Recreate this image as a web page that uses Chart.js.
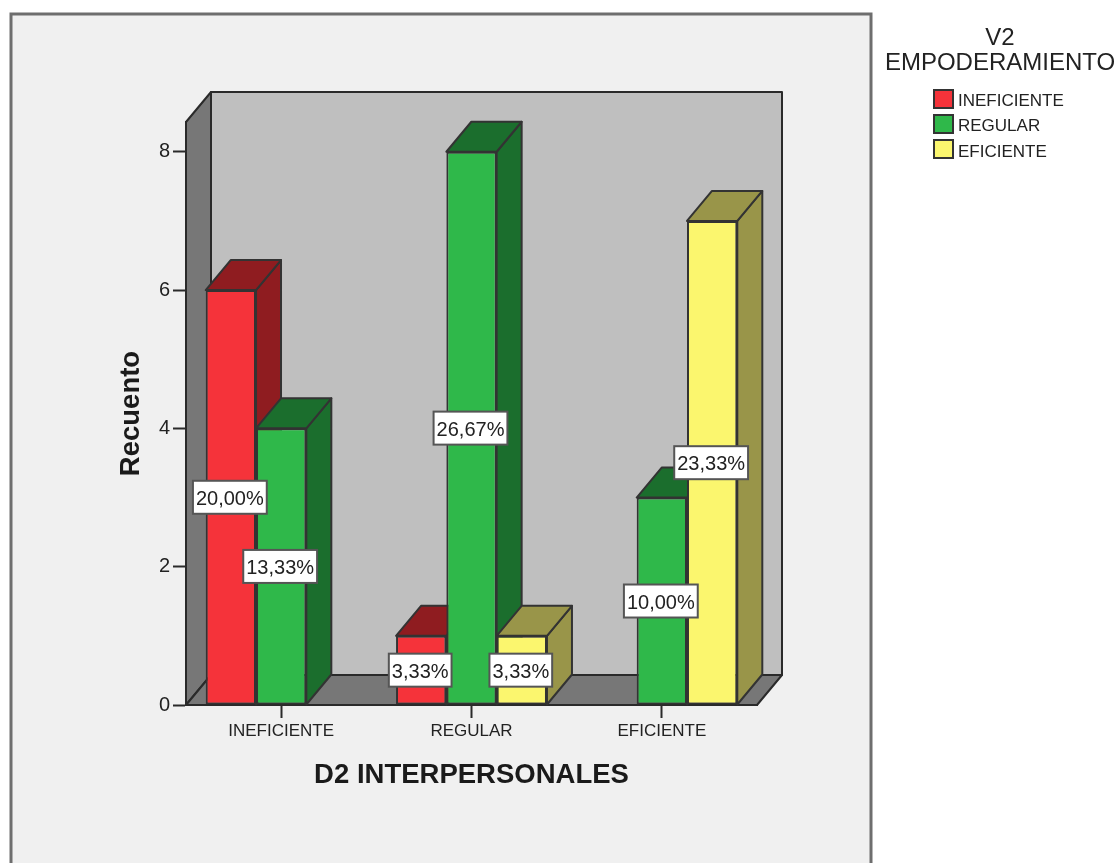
<!DOCTYPE html>
<html>
<head>
<meta charset="utf-8">
<title>D2 INTERPERSONALES</title>
<script src="https://cdn.jsdelivr.net/npm/chart.js@4/dist/chart.umd.js"></script>
<style>
    html, body { margin: 0; background: #fff; }
    #chartBox { width: 1118px; height: 863px; }
</style>
</head>
<body>
<div id="chartBox"><canvas id="recuentoChart"></canvas></div>
<script>
// Data
const categories = ['INEFICIENTE', 'REGULAR', 'EFICIENTE'];
const seriesNames = ['INEFICIENTE', 'REGULAR', 'EFICIENTE'];
const ineficienteValues = [6, 1, null];
const regularValues = [4, 8, 3];
const eficienteValues = [null, 1, 7];
const ineficienteLabels = ['20,00%', '3,33%', null];
const regularLabels = ['13,33%', '26,67%', '10,00%'];
const eficienteLabels = [null, '3,33%', '23,33%'];
const legendTitle = ['V2', 'EMPODERAMIENTO'];

// Colors
const frontColors = ['#f5333a', '#2fb84a', '#fbf66e'];
const shadeColors = ['#8f1c20', '#1b6e2d', '#999549'];
const lineColor = '#2a2a2a';
const fontFamily = '"Liberation Sans", Arial, sans-serif';

// How far the 3D box goes back
const depthX = 25;
const depthY = -30;

function polygon(ctx, points, fill) {
    ctx.beginPath();
    points.forEach((p, i) => i ? ctx.lineTo(p[0], p[1]) : ctx.moveTo(p[0], p[1]));
    ctx.closePath();
    ctx.fillStyle = fill;
    ctx.fill();
    ctx.stroke();
}

// Grey panel and the walls of the box, under the axes
const backdrop = {
    id: 'backdrop',
    beforeDraw(chart) {
        const { ctx, chartArea: a } = chart;
        ctx.save();
        ctx.fillStyle = '#f0f0f0';
        ctx.strokeStyle = '#6e6e6e';
        ctx.lineWidth = 3;
        ctx.fillRect(11, 14, 860, 860);
        ctx.strokeRect(11, 14, 860, 860);

        ctx.strokeStyle = lineColor;
        ctx.lineWidth = 2;
        ctx.lineJoin = 'round';
        const backLeft = a.left + depthX;
        const backRight = a.right + depthX;
        const backTop = a.top + depthY;
        const backBottom = a.bottom + depthY;
        polygon(ctx, [[backLeft, backTop], [backRight, backTop], [backRight, backBottom], [backLeft, backBottom]], '#bfbfbf');
        polygon(ctx, [[a.left, a.bottom], [a.left, a.top], [backLeft, backTop], [backLeft, backBottom]], '#777777');
        polygon(ctx, [[a.left, a.bottom], [a.right, a.bottom], [backRight, backBottom], [backLeft, backBottom]], '#777777');
        ctx.restore();
    }
};

// Top and side faces of every bar, left to right so the overlaps come out right
const barDepth = {
    id: 'barDepth',
    beforeDatasetsDraw(chart) {
        const { ctx } = chart;
        const faces = [];
        chart.data.datasets.forEach((ds, i) => {
            chart.getDatasetMeta(i).data.forEach((bar, j) => {
                if (ds.data[j] !== null) faces.push({ bar, shade: shadeColors[i] });
            });
        });
        faces.sort((a, b) => a.bar.x - b.bar.x);

        ctx.save();
        ctx.strokeStyle = '#333333';
        ctx.lineWidth = 2;
        ctx.lineJoin = 'round';
        faces.forEach(({ bar, shade }) => {
            const left = bar.x - bar.width / 2;
            const right = bar.x + bar.width / 2;
            polygon(ctx, [[right, bar.y], [right, bar.base], [right + depthX, bar.base + depthY], [right + depthX, bar.y + depthY]], shade);
            polygon(ctx, [[left, bar.y], [right, bar.y], [right + depthX, bar.y + depthY], [left + depthX, bar.y + depthY]], shade);
        });
        ctx.restore();
    }
};

// White percentage boxes in the middle of the bars
const percentBoxes = {
    id: 'percentBoxes',
    afterDatasetsDraw(chart) {
        const { ctx } = chart;
        ctx.save();
        ctx.font = '20px ' + fontFamily;
        ctx.textAlign = 'center';
        ctx.textBaseline = 'middle';
        chart.data.datasets.forEach((ds, i) => {
            chart.getDatasetMeta(i).data.forEach((bar, j) => {
                const text = ds.percentLabels[j];
                if (!text) return;
                const boxW = ctx.measureText(text).width + 6;
                const boxH = 33;
                const midX = bar.x - 1;
                const midY = (bar.y + bar.base) / 2;
                ctx.fillStyle = '#ffffff';
                ctx.strokeStyle = '#555555';
                ctx.lineWidth = 2;
                ctx.fillRect(midX - boxW / 2, midY - boxH / 2, boxW, boxH);
                ctx.strokeRect(midX - boxW / 2, midY - boxH / 2, boxW, boxH);
                ctx.fillStyle = '#222222';
                ctx.fillText(text, midX, midY + 2);
            });
        });
        ctx.restore();
    }
};

// Legend block on the right, built from the datasets
const sideLegend = {
    id: 'sideLegend',
    afterDraw(chart) {
        const { ctx } = chart;
        ctx.save();
        ctx.fillStyle = '#222222';
        ctx.textBaseline = 'middle';
        ctx.textAlign = 'center';
        ctx.font = '24px ' + fontFamily;
        ctx.fillText(legendTitle[0], 1000, 38.5);
        ctx.fillText(legendTitle[1], 1000, 63);

        ctx.textAlign = 'left';
        ctx.font = '17px ' + fontFamily;
        chart.data.datasets.forEach((ds, i) => {
            const y = 90 + i * 25;
            ctx.fillStyle = ds.backgroundColor;
            ctx.strokeStyle = '#333333';
            ctx.lineWidth = 2;
            ctx.fillRect(934, y, 19, 18);
            ctx.strokeRect(934, y, 19, 18);
            ctx.fillStyle = '#222222';
            ctx.fillText(ds.label, 958, 101 + i * 25.5);
        });
        ctx.restore();
    }
};

function makeSeries(index, values, labels) {
    return {
        label: seriesNames[index],
        data: values,
        percentLabels: labels,
        backgroundColor: frontColors[index],
        borderColor: '#333333',
        borderWidth: 2,
        borderSkipped: false,
        categoryPercentage: 0.793,
        barPercentage: 1,
    };
}

new Chart(document.getElementById('recuentoChart').getContext('2d'), {
    type: 'bar',
    data: {
        labels: categories,
        datasets: [
            makeSeries(0, ineficienteValues, ineficienteLabels),
            makeSeries(1, regularValues, regularLabels),
            makeSeries(2, eficienteValues, eficienteLabels),
        ],
    },
    plugins: [backdrop, barDepth, percentBoxes, sideLegend],
    options: {
        responsive: true,
        maintainAspectRatio: false,
        animation: false,
        layout: { padding: { top: 122, right: 361, bottom: 0, left: 0 } },
        plugins: {
            legend: { display: false },
            tooltip: { enabled: false },
        },
        scales: {
            x: {
                afterFit(scale) { scale.height = 158; },
                grid: {
                    offset: false,
                    drawOnChartArea: false,
                    tickLength: 13,
                    tickWidth: 2,
                    tickColor: lineColor,
                },
                border: { color: lineColor, width: 2 },
                ticks: {
                    color: '#222222',
                    padding: 3,
                    maxRotation: 0,
                    font: { family: fontFamily, size: 17 },
                },
                title: {
                    display: true,
                    text: 'D2 INTERPERSONALES',
                    color: '#1a1a1a',
                    padding: { top: 0, bottom: 71 },
                    font: { family: fontFamily, size: 27.5, weight: 'bold' },
                },
            },
            y: {
                min: 0,
                max: 8.43,
                afterFit(scale) { scale.width = 186; },
                grid: {
                    drawOnChartArea: false,
                    tickLength: 13,
                    tickWidth: 2,
                    tickColor: lineColor,
                },
                border: { color: lineColor, width: 2 },
                ticks: {
                    stepSize: 2,
                    includeBounds: false,
                    color: '#222222',
                    padding: 3,
                    font: { family: fontFamily, size: 20 },
                },
                title: {
                    display: true,
                    text: 'Recuento',
                    color: '#1a1a1a',
                    padding: { top: 115, bottom: 0 },
                    font: { family: fontFamily, size: 27.5, weight: 'bold' },
                },
            },
        },
    },
});
</script>
</body>
</html>
